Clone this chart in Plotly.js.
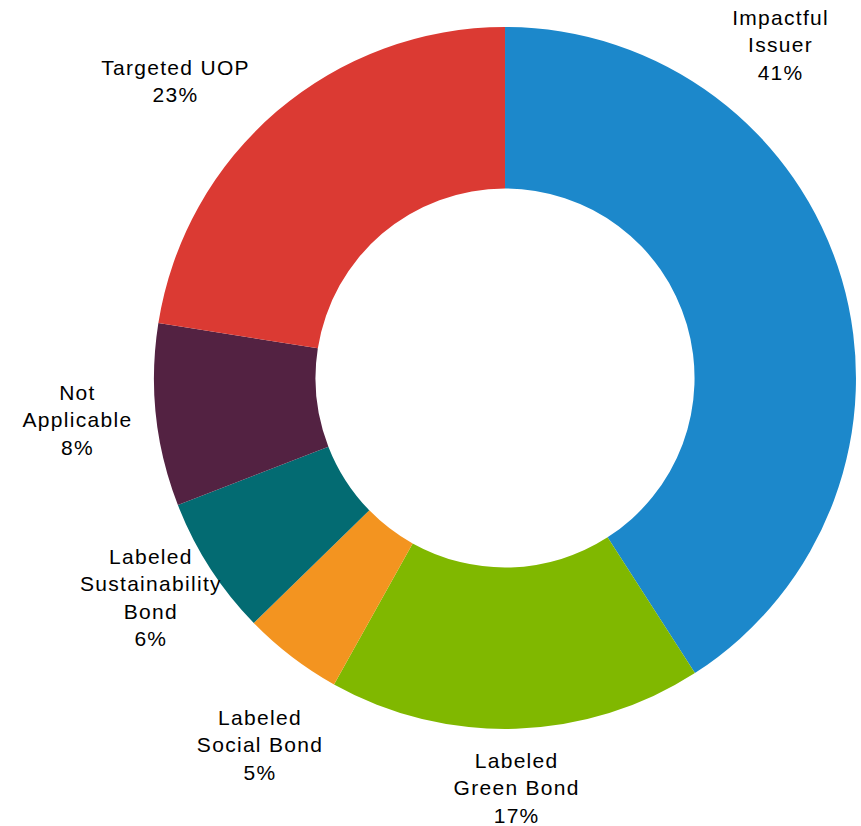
<!DOCTYPE html>
<html>
<head>
<meta charset="utf-8">
<script src="https://cdn.plot.ly/plotly-3.0.1.min.js"></script>
<style>
html,body{margin:0;padding:0;background:#fff;}
#chart{width:861px;height:826px;}
#chart .annotation-text{letter-spacing:1.3px;}
</style>
</head>
<body>
<div id="chart"></div>
<script>
const categories = ["Impactful<br>Issuer", "Labeled<br>Green Bond", "Labeled<br>Social Bond", "Labeled<br>Sustainability<br>Bond", "Not<br>Applicable", "Targeted UOP"];
const shares = [40.9, 17.2, 4.6, 6.4, 8.4, 22.5];
const shareLabels = ["41%", "17%", "5%", "6%", "8%", "23%"];
const colors = ["#1c88cb", "#80b800", "#f39420", "#036b72", "#532242", "#db3a33"];
// label anchor positions (pixels from top-left), text placement only
const labelX = [780, 516, 260, 151, 77, 175];
const labelY = [45, 788, 745, 597, 420, 81];

const W = 861, H = 826;
const FONT = "Liberation Sans, Arial, sans-serif";

const trace = {
  type: "pie",
  labels: categories,
  values: shares,
  textinfo: "none",
  hole: 0.54,
  sort: false,
  direction: "clockwise",
  rotation: 0,
  marker: {colors: colors, line: {width: 0}},
  hoverinfo: "none",
  automargin: false,
  domain: {x: [0.1789, 0.9942], y: [0.1175, 0.9673]}
};

const annotations = categories.map((c, i) => ({
  text: c + "<br>" + shareLabels[i],
  xref: "paper", yref: "paper",
  x: labelX[i] / W, y: 1 - labelY[i] / H,
  xanchor: "center", yanchor: "middle",
  align: "center",
  showarrow: false,
  borderpad: 0,
  font: {family: FONT, size: 21, color: "#000"}
}));

const layout = {
  width: W, height: H,
  margin: {l: 0, r: 0, t: 0, b: 0},
  showlegend: false,
  paper_bgcolor: "#fff",
  font: {family: FONT, size: 21, color: "#000"},
  annotations: annotations
};

Plotly.newPlot("chart", [trace], layout, {displayModeBar: false, staticPlot: true});
</script>
</body>
</html>
